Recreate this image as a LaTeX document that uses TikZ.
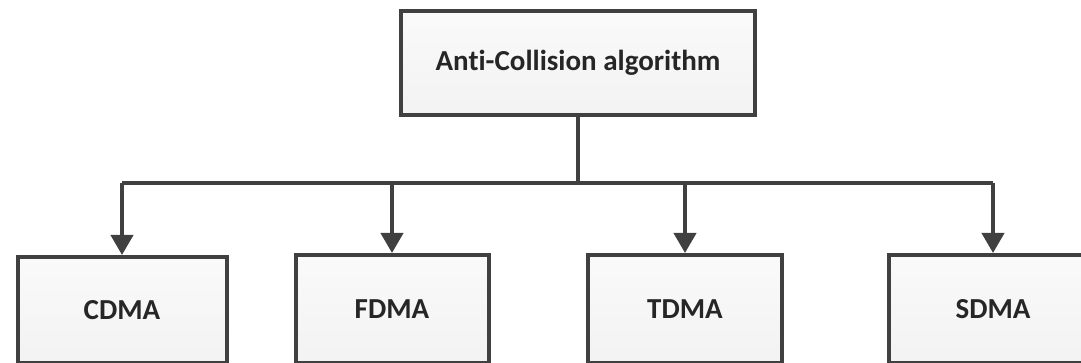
\documentclass[tikz,border=0pt]{standalone}
\usepackage{fontspec}
\setmainfont{Carlito}[Ligatures=NoCommon]
\usetikzlibrary{arrows.meta}
\definecolor{edge}{HTML}{404040}
\tikzset{
  box/.style={draw=edge, line width=4pt, top color=gray!4, bottom color=gray!10, text=black!85, font=\bfseries\fontsize{29}{34}\selectfont, inner sep=0pt},
  conn/.style={draw=edge, line width=4pt},
  arr/.style={conn, -{Triangle[width=22pt,length=20pt]}}
}
\begin{document}
\begin{tikzpicture}[x=1pt,y=-1pt]
\useasboundingbox (0,0) rectangle (1081,363);
\clip (0,0) rectangle (1081,363);
\node[box, minimum width=354pt, minimum height=104pt] (top) at (578,63) {Anti-Collision algorithm};
\node[box, minimum width=209pt, minimum height=106pt] (cdma) at (122,310) {CDMA};
\node[box, minimum width=193pt, minimum height=108pt] (fdma) at (392,309) {FDMA};
\node[box, minimum width=194pt, minimum height=108pt] (tdma) at (685,309) {TDMA};
\node[box, minimum width=208pt, minimum height=108pt] (sdma) at (993,309) {SDMA};
\coordinate (j) at (578,183);
\draw[conn] (top.south) -- (j);
\draw[conn] (122,183) -- (993,183);
\draw[arr] (122,183) -- (cdma.north);
\draw[arr] (fdma.north |- j) -- (fdma.north);
\draw[arr] (tdma.north |- j) -- (tdma.north);
\draw[arr] (sdma.north |- j) -- (sdma.north);
\end{tikzpicture}
\end{document}
